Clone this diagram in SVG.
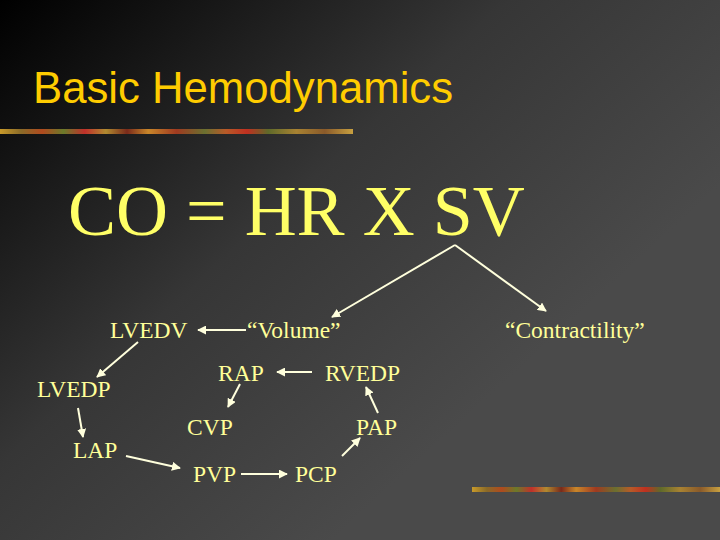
<svg xmlns="http://www.w3.org/2000/svg" width="720" height="540" viewBox="0 0 720 540">
<defs>
<linearGradient id="bg" gradientUnits="userSpaceOnUse" x1="0" y1="0" x2="420" y2="460">
<stop offset="0" stop-color="#000000"/>
<stop offset="0.55" stop-color="#363636"/>
<stop offset="1" stop-color="#4a4a4a"/>
</linearGradient>
<linearGradient id="bar" x1="0" y1="0" x2="1" y2="0">
<stop offset="0" stop-color="#c89a2a"/>
<stop offset="0.06" stop-color="#8a6a28"/>
<stop offset="0.12" stop-color="#b04a1e"/>
<stop offset="0.18" stop-color="#6b7a2a"/>
<stop offset="0.24" stop-color="#c0302a"/>
<stop offset="0.3" stop-color="#b08a30"/>
<stop offset="0.36" stop-color="#7a2a1a"/>
<stop offset="0.42" stop-color="#c8862a"/>
<stop offset="0.5" stop-color="#a03a20"/>
<stop offset="0.58" stop-color="#6a7030"/>
<stop offset="0.64" stop-color="#b85a28"/>
<stop offset="0.7" stop-color="#c03020"/>
<stop offset="0.76" stop-color="#5f6a2a"/>
<stop offset="0.84" stop-color="#a88232"/>
<stop offset="0.92" stop-color="#8a5a2a"/>
<stop offset="1" stop-color="#c8a040"/>
</linearGradient>
<marker id="ah" viewBox="0 0 10 10" refX="9" refY="5" markerWidth="4.5" markerHeight="4.5" orient="auto" markerUnits="strokeWidth">
<path d="M0,0 L10,5 L0,10 z" fill="#ffffdd"/>
</marker>
<style>
.lbl{font-family:"Liberation Serif","Times New Roman",serif;font-size:23.5px;fill:#ffff99}
.con line{stroke:#ffffdd;stroke-width:2;marker-end:url(#ah)}
</style>
</defs>
<rect x="0" y="0" width="720" height="540" fill="url(#bg)"/>
<rect x="0" y="129" width="353" height="5" fill="url(#bar)"/>
<rect x="472" y="487" width="248" height="5" fill="url(#bar)"/>
<g id="title"><text x="33" y="103" font-family="Liberation Sans, Arial, sans-serif" font-size="43.7" fill="#ffcc00">Basic Hemodynamics</text></g>
<g id="equation"><text x="68" y="235" font-family="Liberation Serif, Times New Roman, serif" font-size="72" fill="#ffff66">CO = HR X SV</text></g>
<g id="LVEDV"><text class="lbl" x="110" y="338">LVEDV</text></g>
<g id="volume"><text class="lbl" x="247" y="338">“Volume”</text></g>
<g id="contractility"><text class="lbl" x="505" y="338">“Contractility”</text></g>
<g id="RAP"><text class="lbl" x="218" y="381">RAP</text></g>
<g id="RVEDP"><text class="lbl" x="325" y="381">RVEDP</text></g>
<g id="LVEDP"><text class="lbl" x="37" y="397">LVEDP</text></g>
<g id="CVP"><text class="lbl" x="187" y="435">CVP</text></g>
<g id="PAP"><text class="lbl" x="356" y="435">PAP</text></g>
<g id="LAP"><text class="lbl" x="73" y="458">LAP</text></g>
<g id="PVP"><text class="lbl" x="193" y="482">PVP</text></g>
<g id="PCP"><text class="lbl" x="295" y="482">PCP</text></g>
<g id="connectors" class="con">
<line x1="455" y1="245" x2="332" y2="317"/>
<line x1="455" y1="245" x2="546" y2="311"/>
<line x1="246" y1="330" x2="198" y2="330"/>
<line x1="138" y1="342" x2="97" y2="377"/>
<line x1="312" y1="372" x2="277" y2="372"/>
<line x1="240" y1="384" x2="228" y2="407"/>
<line x1="78" y1="408" x2="83" y2="437"/>
<line x1="126" y1="456" x2="180" y2="468"/>
<line x1="241" y1="474" x2="287" y2="474"/>
<line x1="342" y1="456" x2="360" y2="438"/>
<line x1="378" y1="413" x2="366" y2="387"/>
</g>
</svg>
